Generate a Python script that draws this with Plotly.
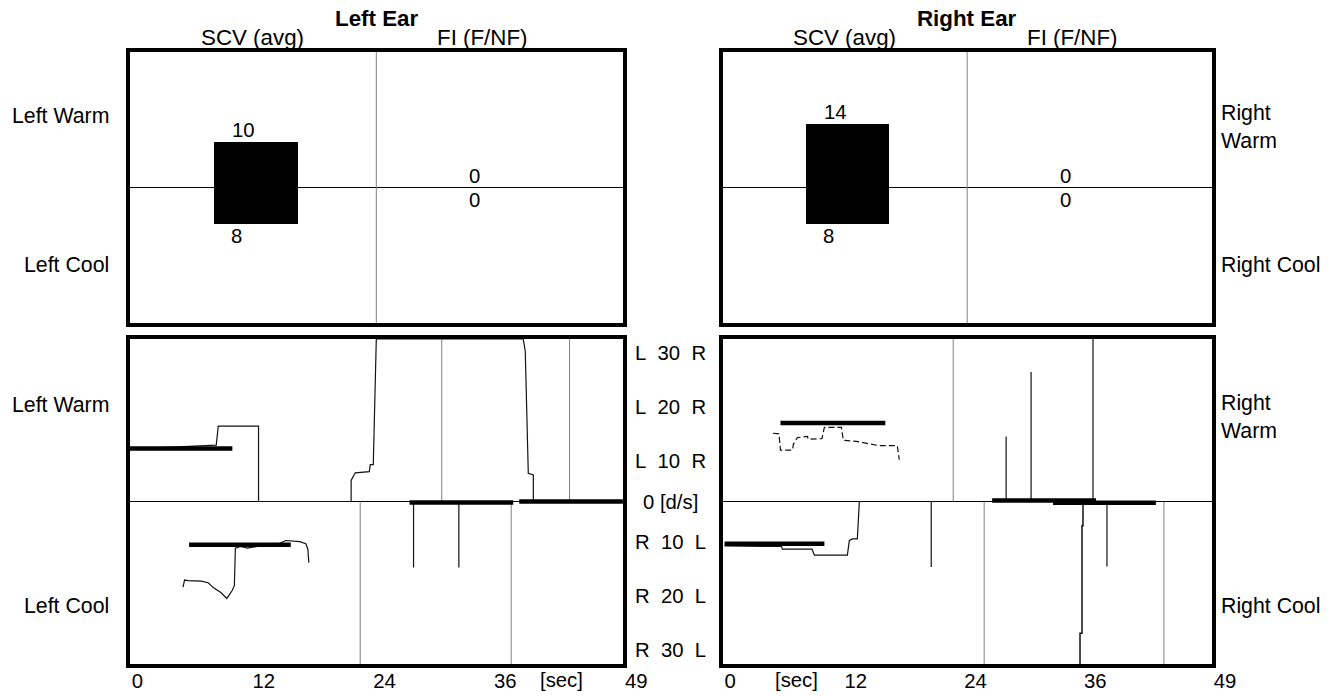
import plotly.graph_objects as go

# ---------------- data ----------------
ear_titles = ["Left Ear", "Right Ear"]
section_labels = ["SCV (avg)", "FI (F/NF)"]
scv_warm = [10, 14]          # SCV average, warm stimulus (d/s)
scv_cool = [8, 8]            # SCV average, cool stimulus (d/s)
fi_warm = [0, 0]
fi_cool = [0, 0]

time_ticks = [0, 12, 24, 36, 49]
vel_ticks = [30, 20, 10, 0, -10, -20, -30]
vel_tick_text = ["L\u00a0\u00a030\u00a0\u00a0R", "L\u00a0\u00a020\u00a0\u00a0R", "L\u00a0\u00a010\u00a0\u00a0R", "0 [d/s]",
                 "R\u00a0\u00a010\u00a0\u00a0L", "R\u00a0\u00a020\u00a0\u00a0L", "R\u00a0\u00a030\u00a0\u00a0L"]

# ---- Left ear, slow-phase velocity traces (sec, d/s)
left_warm_t = [0.4, 5.6, 8.6, 8.8, 12.8, 12.8, 22.0, 22.0, 22.4, 23.8, 23.9, 24.2, 24.4, 24.5, 39.1, 39.3, 39.6, 40.1, 40.1]
left_warm_v = [9.7, 10.2, 10.4, 13.9, 13.9, 0, 0, 3.9, 5.3, 5.5, 6.8, 6.8, 19.2, 30, 30, 27.7, 5.2, 4.9, 0]
left_warm_avg_t = [0, 10.2]
left_warm_avg_v = 9.8

left_cool_t = [5.3, 5.45, 5.8, 7.1, 7.8, 8.3, 9.06, 9.65, 10.2, 10.4, 10.5, 11.0, 11.7, 12.7, 14.6, 15.5, 16.9, 17.5, 17.7, 17.8]
left_cool_v = [-15.8, -14.5, -14.6, -14.7, -15.0, -15.9, -16.8, -17.9, -16.4, -15.5, -8.6, -8.3, -8.6, -8.3, -8.0, -7.2, -7.4, -7.8, -8.8, -11.3]
left_cool_avg_t = [5.9, 16.0]
left_cool_avg_v = -8.0

left_spike_t = [28.2, 32.7]
left_spike_v = [-12.2, -12.2]
left_fi_t = [[27.8, 38.1], [38.7, 49]]
left_fi_v = [-0.2, 0.0]
left_events_warm = [31.0, 43.7]
left_events_cool = [22.9, 37.9]

# ---- Right ear
right_warm_t = [5.06, 5.65, 5.8, 7.0, 7.1, 7.5, 8.5, 8.6, 9.95, 10.2, 11.9, 12.1, 13.4, 14.75, 15.7, 17.5, 17.7]
right_warm_v = [12.6, 12.5, 9.5, 9.5, 10.6, 11.8, 12.0, 11.5, 11.6, 13.7, 13.7, 11.3, 11.1, 10.6, 10.3, 10.3, 7.7]
right_warm_avg_t = [5.8, 16.3]
right_warm_avg_v = 14.5

right_cool_t = [0.2, 5.9, 6.0, 8.96, 9.2, 12.5, 12.7, 13.0, 13.5, 13.7]
right_cool_v = [-8.2, -8.3, -8.8, -8.8, -9.9, -9.9, -7.2, -6.9, -6.9, 0]
right_cool_avg_t = [0.2, 10.2]
right_cool_avg_v = -7.8

right_spike_t = [28.4, 30.9, 37.1, 20.9, 38.5]
right_spike_v = [12.0, 23.9, 30.0, -12.1, -12.0]
right_drop_t = [36.1, 36.1, 36.0, 36.0, 35.8, 35.8]
right_drop_v = [0, -4.5, -4.5, -24.3, -24.3, -30]
right_fi_t = [[27.0, 37.4], [33.1, 43.4]]
right_fi_v = [0.2, -0.25]
right_events_warm = [23.1]
right_events_cool = [26.2, 44.2]

# ---------------- figure ----------------
OFF = 8                     # page body margin
SX, SY = 0.985, 1.0         # observed screenshot scale (horizontal, vertical)
W, H = round(1338 / SX - OFF), 696 - OFF
FONT = "Liberation Sans, Arial, sans-serif"


def PX(p):                  # target picture x pixel -> paper
    return (p / SX - OFF) / W


def PY(p):                  # target picture y pixel -> paper
    return 1 - (p / SY - OFF) / H


def F(s):                   # font size compensation
    return s / SX


fig = go.Figure()

XL = [PX(130), PX(625)]
XR = [PX(725), PX(1216)]
YT = [PY(323), PY(52)]
YB = [PY(664), PY(339)]

# --- top summary bars
for i, (xa, ya) in enumerate([("x", "y"), ("x2", "y2")]):
    fig.add_trace(go.Bar(x=[0.51], y=[scv_warm[i] + scv_cool[i]], base=[-scv_cool[i]], width=[0.34],
                         marker=dict(color="black", line=dict(width=0)), xaxis=xa, yaxis=ya,
                         showlegend=False, hoverinfo="skip"))
    fig.add_trace(go.Bar(x=[1.40], y=[fi_warm[i] + fi_cool[i]], base=[-fi_cool[i]], width=[0.34],
                         marker=dict(color="black", line=dict(width=0)), xaxis=xa, yaxis=ya,
                         showlegend=False, hoverinfo="skip"))


def line(xa, ya, t, v, width=1.2, color="#111", dash="solid"):
    fig.add_trace(go.Scatter(x=t, y=v, mode="lines", xaxis=xa, yaxis=ya,
                             line=dict(color=color, width=width, dash=dash),
                             showlegend=False, hoverinfo="skip"))


def vlines(xa, ya, ts, tips, base=0, width=1.2, color="#111"):
    xs, ys = [], []
    for t, v in zip(ts, tips):
        xs += [t, t, None]
        ys += [base, v, None]
    line(xa, ya, xs, ys, width=width, color=color)


def events(xa, ya, ts, top):
    vlines(xa, ya, ts, [top] * len(ts), width=1, color="#808080")


# left ear bottom panel
events("x3", "y3", left_events_warm, 30)
events("x3", "y3", left_events_cool, -30)
line("x3", "y3", left_warm_t, left_warm_v)
line("x3", "y3", left_cool_t, left_cool_v)
vlines("x3", "y3", left_spike_t, left_spike_v)
line("x3", "y3", left_warm_avg_t, [left_warm_avg_v] * 2, width=4.5, color="black")
line("x3", "y3", left_cool_avg_t, [left_cool_avg_v] * 2, width=4.5, color="black")
for seg, v in zip(left_fi_t, left_fi_v):
    line("x3", "y3", seg, [v, v], width=4.5, color="black")

# right ear bottom panel
events("x4", "y4", right_events_warm, 30)
events("x4", "y4", right_events_cool, -30)
line("x4", "y4", right_warm_t, right_warm_v, dash="6px,3px")
line("x4", "y4", right_cool_t, right_cool_v)
vlines("x4", "y4", right_spike_t, right_spike_v)
line("x4", "y4", right_drop_t, right_drop_v, width=1.5)
line("x4", "y4", right_warm_avg_t, [right_warm_avg_v] * 2, width=4.5, color="black")
line("x4", "y4", right_cool_avg_t, [right_cool_avg_v] * 2, width=4.5, color="black")
for seg, v in zip(right_fi_t, right_fi_v):
    line("x4", "y4", seg, [v, v], width=4.5, color="black")

# --- axes
frame = dict(showline=True, mirror=True, linewidth=4, linecolor="black", showgrid=False,
             ticks="", fixedrange=True)
zl = dict(zeroline=True, zerolinecolor="black", zerolinewidth=1, showticklabels=False, range=[-30, 30])
tick_x = dict(range=[0, 49], zeroline=False, tickvals=time_ticks, ticktext=[str(t) for t in time_ticks],
              ticklabelposition="outside right", ticklabelstandoff=-4,
              tickfont=dict(size=F(20), color="black", family=FONT))
fig.update_layout(
    xaxis=dict(domain=XL, range=[0, 2], zeroline=False, showticklabels=False, anchor="y", **frame),
    yaxis=dict(domain=YT, anchor="x", **zl, **frame),
    xaxis2=dict(domain=XR, range=[0, 2], zeroline=False, showticklabels=False, anchor="y2", **frame),
    yaxis2=dict(domain=YT, anchor="x2", **zl, **frame),
    xaxis3=dict(domain=XL, anchor="y3", **tick_x, **frame),
    yaxis3=dict(domain=YB, anchor="x3", **zl, **frame),
    xaxis4=dict(domain=XR, anchor="y4", **tick_x, **frame),
    yaxis4=dict(domain=YB, anchor="x4", **zl, **frame),
    width=W, height=H, margin=dict(l=0, r=0, t=0, b=0),
    paper_bgcolor="white", plot_bgcolor="white", bargap=0,
    font=dict(family=FONT, size=F(21), color="black"),
)

# divider lines in summary panels
for xa, ya in [("x", "y"), ("x2", "y2")]:
    fig.add_shape(type="line", xref=xa, yref=ya + " domain", x0=1, x1=1, y0=0, y1=1,
                  line=dict(color="#808080", width=1))

ann = []


def A(**kw):
    kw.setdefault("xanchor", "center")
    kw.setdefault("yanchor", "middle")
    kw.setdefault("showarrow", False)
    ann.append(kw)


# titles, section labels, bar values
for i, (xa, ya) in enumerate([("x", "y"), ("x2", "y2")]):
    A(text="<b>%s</b>" % ear_titles[i], x=1.0, xref=xa, y=PY(18), yref="paper", font=dict(size=F(22)))
    A(text=section_labels[0], x=0.5, xref=xa, y=PY(38), yref="paper", font=dict(size=F(22)))
    A(text=section_labels[1], x=1.43, xref=xa, y=PY(38), yref="paper", font=dict(size=F(22)))
    A(text=str(scv_warm[i]), x=0.51, xref=xa, y=scv_warm[i], yref=ya, xshift=-12 / SX, yshift=12,
      font=dict(size=F(20)))
    A(text=str(scv_cool[i]), x=0.51, xref=xa, y=-scv_cool[i], yref=ya, xshift=-19 / SX, yshift=-12,
      font=dict(size=F(20)))
    A(text=str(fi_warm[i]), x=1.40, xref=xa, y=fi_warm[i], yref=ya, yshift=12, font=dict(size=F(20)))
    A(text=str(fi_cool[i]), x=1.40, xref=xa, y=-fi_cool[i], yref=ya, yshift=-12, font=dict(size=F(20)))

# side labels
for yw, yc in [(116, 265), (405, 606)]:
    A(text="Left Warm", x=PX(111), xref="paper", y=PY(yw), yref="paper", xanchor="right")
    A(text="Left Cool", x=PX(111), xref="paper", y=PY(yc), yref="paper", xanchor="right")
for yw, yc in [(127, 265), (417, 606)]:
    A(text="Right<br>Warm", x=PX(1223), xref="paper", y=PY(yw), yref="paper", xanchor="left", align="left")
    A(text="Right Cool", x=PX(1223), xref="paper", y=PY(yc), yref="paper", xanchor="left")

# velocity scale labels between the bottom panels (pulled slightly toward zero)
for v, txt in zip(vel_ticks, vel_tick_text):
    pos = v - 2.5 * (1 if v > 0 else -1 if v < 0 else 0)
    A(text=txt, x=PX(673), xref="paper", y=pos, yref="y3", font=dict(size=F(20)))

# [sec] labels
A(text="[sec]", x=40.6, xref="x3", y=PY(680), yref="paper", xanchor="left", font=dict(size=F(20)))
A(text="[sec]", x=5.1, xref="x4", y=PY(680), yref="paper", xanchor="left", font=dict(size=F(20)))

fig.update_layout(annotations=ann)
fig.write_html("out.html")
